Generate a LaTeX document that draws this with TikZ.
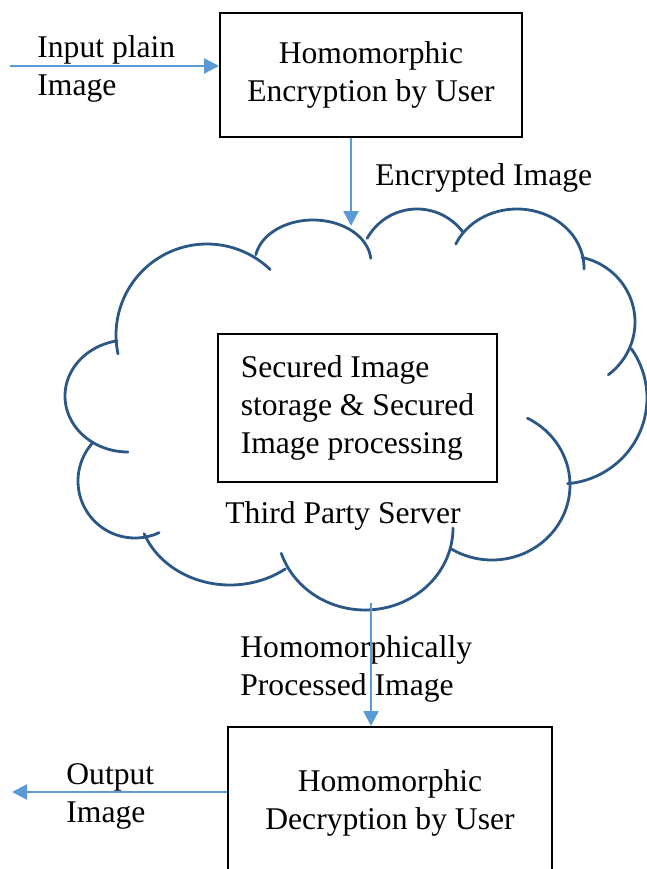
\documentclass[tikz,border=0pt]{standalone}
\usepackage{fontspec}
\setmainfont{Liberation Serif}
\usetikzlibrary{arrows.meta}

\definecolor{flowblue}{HTML}{5B9BD5}
\definecolor{cloudblue}{HTML}{2B5787}

% one puff of the cloud: centre x, centre y, x radius, y radius, from angle, to angle
\newcommand\cloudpuff[6]{\draw[puff] plot[domain=#5:#6, samples=60] ({#1+#3*cos(\x)},{#2+#4*sin(\x)});}

\begin{document}
\begin{tikzpicture}[x=0.5pt, y=-0.5pt,
  font=\fontsize{15.8}{19}\selectfont,
  box/.style={draw, line width=1pt, inner sep=0pt, align=center},
  flow/.style={draw=flowblue, line width=1.2pt, -{Triangle[length=7.5pt, width=7.5pt]}},
  lbl/.style={inner sep=0pt, align=left},
  puff/.style={draw=cloudblue, line width=1.4pt, line cap=round}]
  \useasboundingbox (0,0) rectangle (647,869);
  \clip (0,0) rectangle (647,869);

  % the server cloud, clockwise from the upper left
  \cloudpuff{207}{335}{91}{91}{168}{314}
  \cloudpuff{313}{262}{58}{42}{190}{355}
  \cloudpuff{417}{266}{57}{57}{209}{324}
  \cloudpuff{517}{268}{67}{59}{204}{361}
  \cloudpuff{568}{322}{67}{66}{282}{413}
  \cloudpuff{560}{398}{87}{86}{325}{445}
  \cloudpuff{492}{485}{78}{75}{297}{481}
  \cloudpuff{365}{528}{88}{82}{0}{162}
  \cloudpuff{230}{505}{92}{80}{53}{159}
  \cloudpuff{135}{481}{57}{57}{65}{222}
  \cloudpuff{128}{396}{63}{56}{90}{260}

  % boxes
  \node[box, minimum width=151pt, minimum height=62pt] (enc) at (371,75) {Homomorphic\\Encryption by User};
  \node[box, minimum width=139.5pt, minimum height=74pt, align=left] (store) at (357.5,408)
    {Secured Image\\storage \& Secured\\Image processing};
  \node[lbl, anchor=base west] (srv) at (225,523) {Third Party Server};
  \node[box, minimum width=162pt, minimum height=76pt] (dec) at (390,803) {Homomorphic\\Decryption by User};

  % labels on the arrows
  \node[lbl, anchor=west] (inLbl) at (37,68.5) {Input plain\\Image};
  \node[lbl, anchor=base west] (encLbl) at (375,185) {Encrypted Image};
  \node[lbl, anchor=west] (procLbl) at (240,668.5) {Homomorphically\\Processed Image};
  \node[lbl, anchor=west] (outLbl) at (66,796.5) {Output\\Image};

  % arrow ends
  \coordinate (inStart) at (10,66);
  \coordinate (cloudTop) at (351,226);
  \coordinate (cloudBot) at (371,603);
  \coordinate (outEnd) at (12,792);

  \draw[flow] (inStart) -- (inStart -| enc.west);
  \draw[flow] (enc.south -| cloudTop) -- (cloudTop);
  \draw[flow] (cloudBot) -- (cloudBot |- dec.north);
  \draw[flow] (outEnd -| dec.west) -- (outEnd);
\end{tikzpicture}
\end{document}
